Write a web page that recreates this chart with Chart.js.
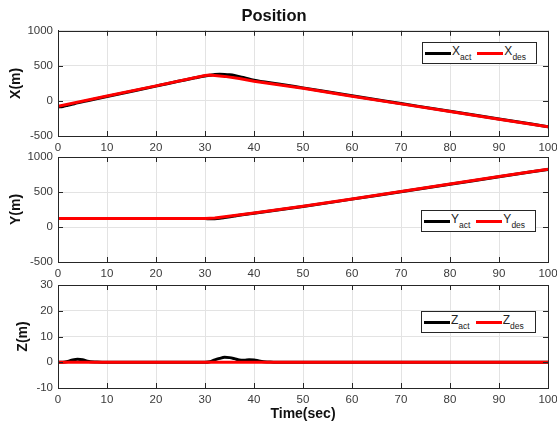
<!DOCTYPE html>
<html>
<head>
<meta charset="utf-8">
<script src="https://cdn.jsdelivr.net/npm/chart.js@4"></script>
<style>
  html,body{margin:0;padding:0;background:#fff;}
  #wrap{position:relative;width:557px;height:430px;overflow:hidden;background:#fff;font-family:"Liberation Sans",Arial,sans-serif;}
  canvas{position:absolute;left:0;}
  .lg{position:absolute;width:113px;height:20px;border:1px solid #262626;background:#fff;display:flex;align-items:center;box-sizing:content-box;}
  .ln{display:inline-block;width:26px;height:3px;margin-right:1px;}
  .tx{font-size:12px;color:#222;line-height:12px;white-space:nowrap;}
  .tx sub{font-size:8.5px;vertical-align:-5px;line-height:8px;}
</style>
</head>
<body>
<div id="wrap">
  <canvas id="c1" width="557" height="156" style="top:0;width:557px;height:156px"></canvas>
  <canvas id="c2" width="557" height="137" style="top:145px;width:557px;height:137px"></canvas>
  <canvas id="c3" width="557" height="158" style="top:272px;width:557px;height:158px"></canvas>
  <div class="lg" style="left:422px;top:42px"><span class="ln" style="background:#000;margin-left:2px"></span><span class="tx">X<sub>act</sub></span><span class="ln" style="background:#ff0000;margin-left:6px"></span><span class="tx">X<sub>des</sub></span></div>
  <div class="lg" style="left:421px;top:210px"><span class="ln" style="background:#000;margin-left:2px"></span><span class="tx">Y<sub>act</sub></span><span class="ln" style="background:#ff0000;margin-left:6px"></span><span class="tx">Y<sub>des</sub></span></div>
  <div class="lg" style="left:421px;top:311px"><span class="ln" style="background:#000;margin-left:2px"></span><span class="tx">Z<sub>act</sub></span><span class="ln" style="background:#ff0000;margin-left:6px"></span><span class="tx">Z<sub>des</sub></span></div>
</div>
<script>
// ---- data ----
const timeTicks = [0,10,20,30,40,50,60,70,80,90,100];

const tXAct = [0,1,2,3,4,6,10,20,28,30,31,32,33,34,35,36,38,40,45,50,60,70,80,90,100];
const xAct  = [-85,-78,-62,-45,-28,2,64,211,330,357,366,376,380,378,372,362,330,296,242,186,74,-37,-148,-257,-367];
const tXDes = [0,10,20,30,31,34,37,40,45,50,55,60,70,80,90,100];
const xDes  = [-75,70,215,362,368,350,320,282,232,180,125,68,-42,-152,-260,-370];

const tYAct = [0,30,31,32,33,34,36,38,40,50,60,70,80,90,100];
const yAct  = [120,120,118,119,125,135,157,178,196,292,398,505,611,718,823];
const tYDes = [0,30,32,34,36,40,50,60,70,80,90,100];
const yDes  = [120,120,128,145,165,200,295,400,507,613,720,825];

const tZAct = [0,1,2,3,4,5,6,8,10,29,30,31,32,33,34,35,36,37,38,39,40,41,42,43,44,46,100];
const zAct  = [0,0,0.3,0.9,1.2,1.0,0.4,0.1,0,0,0,0.2,0.9,1.5,1.9,1.8,1.4,0.9,0.8,1.0,0.9,0.5,0.2,0.1,0,0,0];
const tZDes = [0,100];
const zDes  = [0,0];

const xTickValues = [1000,500,0,-500];
const yTickValues = [1000,500,0,-500];
const zTickValues = [30,20,10,0,-10];

// ---- helpers ----
const pts = (t, v) => t.map((x, i) => ({x: x, y: v[i]}));
const FONT = '"Liberation Sans", Arial, sans-serif';
const AX = '#262626';

const framePlugin = {
  id: 'frame',
  afterDraw(chart) {
    const {ctx, chartArea: a, scales} = chart;
    ctx.save();
    ctx.strokeStyle = AX;
    ctx.lineWidth = 1;
    ctx.beginPath();
    const L = 5;
    scales.x.ticks.forEach(t => {
      const px = Math.round(scales.x.getPixelForValue(t.value)) + 0.5;
      ctx.moveTo(px, a.bottom); ctx.lineTo(px, a.bottom - L);
      ctx.moveTo(px, a.top); ctx.lineTo(px, a.top + L);
    });
    scales.y.ticks.forEach(t => {
      const py = Math.round(scales.y.getPixelForValue(t.value)) + 0.5;
      ctx.moveTo(a.left, py); ctx.lineTo(a.left + L, py);
      ctx.moveTo(a.right, py); ctx.lineTo(a.right - L, py);
    });
    ctx.stroke();
    ctx.strokeRect(Math.round(a.left) + 0.5, Math.round(a.top) + 0.5,
                   Math.round(a.right - a.left), Math.round(a.bottom - a.top));
    ctx.restore();
  }
};

function makeChart(id, cfg) {
  const datasets = [
    {label: cfg.actLabel, data: pts(cfg.tAct, cfg.act), borderColor: '#000000', borderWidth: 3,
     pointRadius: 0, cubicInterpolationMode: 'monotone', order: 1},
    {label: cfg.desLabel, data: pts(cfg.tDes, cfg.des), borderColor: '#ff0000', borderWidth: 3,
     pointRadius: 0, tension: 0, order: 0}
  ];
  return new Chart(document.getElementById(id), {
    type: 'line',
    data: {datasets},
    plugins: [framePlugin],
    options: {
      responsive: false,
      animation: false,
      layout: {padding: {left: 0, right: 9, top: cfg.padTop, bottom: 0}},
      plugins: {
        legend: {display: false},
        tooltip: {enabled: false},
        title: cfg.title ? {
          display: true, text: cfg.title, color: '#111',
          font: {family: FONT, size: 16.5, weight: 'bold', lineHeight: 1.2},
          padding: {top: 7, bottom: 4}
        } : {display: false}
      },
      scales: {
        x: {
          type: 'linear', min: 0, max: 100,
          afterBuildTicks: s => { s.ticks = timeTicks.map(v => ({value: v})); },
          ticks: {color: '#3a3a3a', font: {family: FONT, size: 11.5}, padding: 5, maxRotation: 0, autoSkip: false,
                  callback: v => String(v)},
          grid: {color: '#e3e3e3', lineWidth: 1, drawTicks: false},
          border: {display: true, color: AX, width: 1},
          title: cfg.xTitle ? {display: true, text: cfg.xTitle, color: '#111',
                  font: {family: FONT, size: 14, weight: 'bold', lineHeight: 1.2},
                  padding: {top: 0, bottom: 7.5}} : {display: false},
          afterFit: s => { s.height = cfg.xH; s.paddingLeft = 0; s.paddingRight = 0; }
        },
        y: {
          type: 'linear', min: cfg.yMin, max: cfg.yMax,
          afterBuildTicks: s => { s.ticks = cfg.yTicks.map(v => ({value: v})); },
          ticks: {color: '#3a3a3a', font: {family: FONT, size: 11.5}, padding: 5, autoSkip: false,
                  callback: v => String(v)},
          grid: {color: '#e3e3e3', lineWidth: 1, drawTicks: false},
          border: {display: true, color: AX, width: 1},
          title: {display: true, text: cfg.yTitle, color: '#111',
                  font: {family: FONT, size: 14, weight: 'bold', lineHeight: 1.2},
                  padding: {top: cfg.yTitlePad, bottom: 0}},
          afterFit: s => { s.width = 58; s.paddingTop = 0; s.paddingBottom = 0; }
        }
      }
    }
  });
}

makeChart('c1', {title: 'Position', padTop: 0, xH: 20, yMin: -500, yMax: 1000, yTicks: xTickValues,
  yTitle: 'X(m)', yTitlePad: 7.5, actLabel: 'X_act', desLabel: 'X_des',
  tAct: tXAct, act: xAct, tDes: tXDes, des: xDes});
makeChart('c2', {padTop: 12, xH: 20, yMin: -500, yMax: 1000, yTicks: yTickValues,
  yTitle: 'Y(m)', yTitlePad: 7.5, actLabel: 'Y_act', desLabel: 'Y_des',
  tAct: tYAct, act: yAct, tDes: tYDes, des: yDes});
makeChart('c3', {padTop: 13, xH: 42, yMin: -10, yMax: 30, yTicks: zTickValues, xTitle: 'Time(sec)',
  yTitle: 'Z(m)', yTitlePad: 15, actLabel: 'Z_act', desLabel: 'Z_des',
  tAct: tZAct, act: zAct, tDes: tZDes, des: zDes});
</script>
</body>
</html>
